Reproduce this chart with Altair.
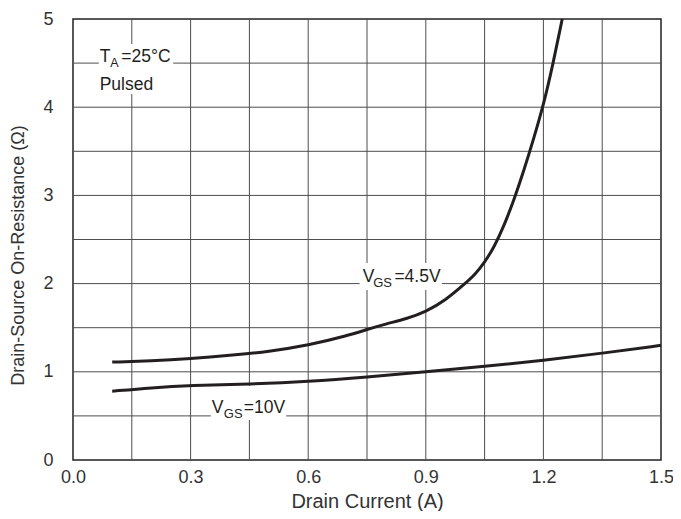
import altair as alt
import pandas as pd

# ---- data ----
x_vgs45 = [0.10, 0.20, 0.30, 0.40, 0.50, 0.60, 0.70, 0.75, 0.80, 0.85, 0.90, 0.95, 1.00,
           1.025, 1.05, 1.075, 1.10, 1.125, 1.15, 1.175, 1.20, 1.225, 1.248]
y_vgs45 = [1.11, 1.125, 1.15, 1.185, 1.23, 1.30, 1.41, 1.48, 1.545, 1.60, 1.68, 1.81, 2.00,
           2.10, 2.24, 2.42, 2.66, 2.95, 3.28, 3.64, 4.02, 4.50, 5.00]

x_vgs10 = [0.10, 0.20, 0.30, 0.45, 0.60, 0.75, 0.90, 1.05, 1.20, 1.35, 1.50]
y_vgs10 = [0.78, 0.82, 0.845, 0.86, 0.89, 0.94, 1.00, 1.06, 1.13, 1.21, 1.30]

x_ticks = [0.0, 0.3, 0.6, 0.9, 1.2, 1.5]
y_ticks = [0, 1, 2, 3, 4, 5]
x_grid = [0.15, 0.30, 0.45, 0.60, 0.75, 0.90, 1.05, 1.20, 1.35]
y_grid = [0.5, 1.0, 1.5, 2.0, 2.5, 3.0, 3.5, 4.0, 4.5]

# annotation text pieces: text, anchor x, anchor y (data)
ann_text = ["T", "A", "=25°C", "Pulsed", "V", "GS", "=4.5V", "V", "GS", "=10V"]
ann_x = [0.068, 0.068, 0.068, 0.068, 0.739, 0.739, 0.739, 0.354, 0.354, 0.354]
ann_y = [4.513, 4.513, 4.513, 4.195, 2.018, 2.018, 2.018, 0.536, 0.536, 0.536]
# pixel offsets and font sizes of the pieces (style)
ann_dx = [0, 10.7, 21.7, 0, 0, 10.5, 31.7, 0, 12, 32]
ann_dy = [0, 4.7, 0, 0, 0, 4.7, 0, 0, 5, 0]
ann_size = [17.5, 12.5, 17.5, 17.5, 17.5, 13, 17.5, 17.5, 13, 17.5]

# white boxes that break the gridlines behind the labels
box_x1 = [0.0658, 0.731, 0.3516]
box_x2 = [0.2555, 0.941, 0.5439]
box_y1 = [4.150, 1.927, 0.4535]
box_y2 = [4.717, 2.234, 0.839]

W, H = 588, 441
FONT = "Liberation Sans"
INK = "#231f20"

curves = pd.concat([
    pd.DataFrame({"x": x_vgs45, "y": y_vgs45, "s": "4.5"}),
    pd.DataFrame({"x": x_vgs10, "y": y_vgs10, "s": "10"}),
])
boxes = pd.DataFrame({"x": box_x1, "x2": box_x2, "y": box_y1, "y2": box_y2})

xs = alt.Scale(domain=[0, 1.5], nice=False, zero=False)
ys = alt.Scale(domain=[0, 5], nice=False, zero=False)

xaxis = alt.Axis(values=x_ticks, format=".1f", grid=False, ticks=False, domain=False,
                 labelFlush=False, labelOverlap=False, labelPadding=8,
                 title="Drain Current (A)", titlePadding=5, titleFontSize=20)
yaxis = alt.Axis(values=y_ticks, format="d", grid=False, ticks=False, domain=False,
                 labelFlush=False, labelOverlap=False, labelPadding=20,
                 title="Drain-Source On-Resistance (Ω)", titleX=-46, titleY=236, titleFontSize=18)


def X(f="x"):
    return alt.X(f"{f}:Q", scale=xs, axis=xaxis)


def Y(f="y"):
    return alt.Y(f"{f}:Q", scale=ys, axis=yaxis)


vgrid = alt.Chart(pd.DataFrame({"x": x_grid})).mark_rule(color="#4d4d4d", strokeWidth=1).encode(
    x=X(), y=alt.value(0), y2=alt.value(H))
hgrid = alt.Chart(pd.DataFrame({"y": y_grid})).mark_rule(color="#4d4d4d", strokeWidth=1).encode(
    y=Y(), x=alt.value(0), x2=alt.value(W))

box = alt.Chart(boxes).mark_rect(color="white").encode(
    x=X(), x2="x2:Q", y=Y(), y2="y2:Q")

lines = alt.Chart(curves).mark_line(strokeWidth=3, interpolate="basis", color=INK).encode(
    x=X(), y=Y(), detail="s:N")

text_layers = []
for t, ax, ay, dx, dy, sz in zip(ann_text, ann_x, ann_y, ann_dx, ann_dy, ann_size):
    text_layers.append(
        alt.Chart(pd.DataFrame({"t": [t], "x": [ax], "y": [ay]})).mark_text(
            align="left", baseline="alphabetic", font=FONT, color=INK,
            dx=dx, dy=dy, fontSize=sz,
        ).encode(x=X(), y=Y(), text="t:N")
    )

chart = alt.layer(vgrid, hgrid, box, lines, *text_layers).properties(
    width=W, height=H,
    autosize=alt.AutoSizeParams(type="none"),
    padding={"left": 65, "top": 11, "right": 12, "bottom": 51},
    background="white",
).configure_view(stroke="#222222", strokeWidth=1.5).configure_axis(
    labelFont=FONT, labelFontSize=18, labelColor="#333333",
    titleFont=FONT, titleFontWeight="normal", titleColor="#333333",
)

chart.save("out.html", embed_options={"renderer": "svg", "actions": False})
